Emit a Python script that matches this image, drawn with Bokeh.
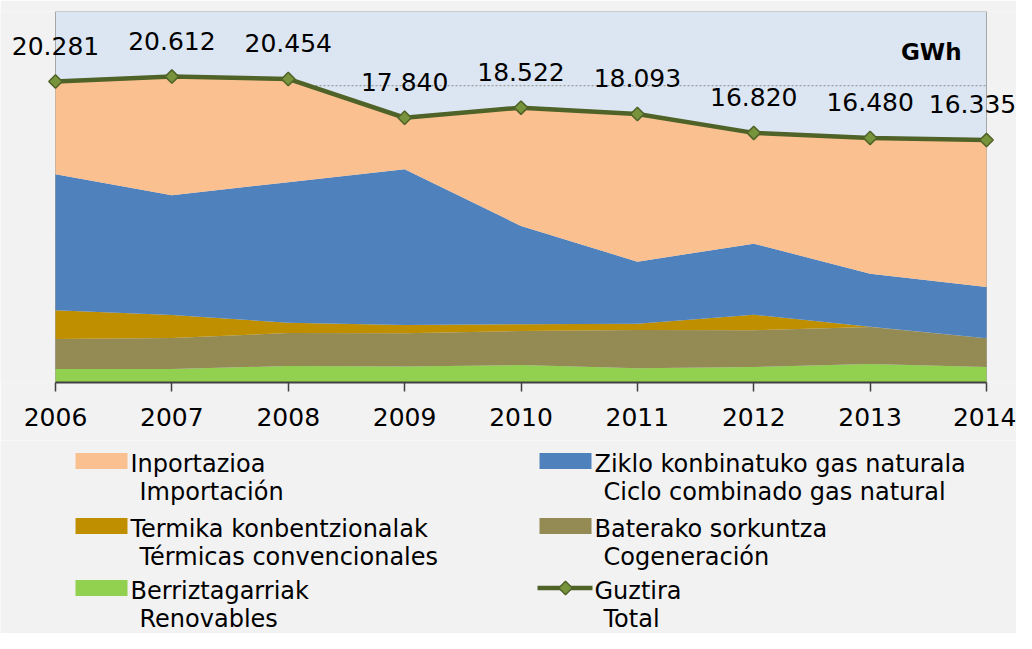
import numpy as np
from bokeh.plotting import figure
from bokeh.models import ColumnDataSource, Range1d, FixedTicker, LabelSet, Label
from bokeh.layouts import column
from bokeh.core.properties import value
from bokeh.embed import file_html
from bokeh.resources import INLINE

# ---------------- data (GWh) ----------------
years = [2006, 2007, 2008, 2009, 2010, 2011, 2012, 2013, 2014]
renovables = [910, 910, 1112, 1078, 1180, 957, 1045, 1247, 1045]
cogeneracion = [2022, 2090, 2224, 2238, 2292, 2581, 2474, 2494, 1934]
termicas = [1934, 1550, 694, 560, 450, 425, 1051, 20, 0]
ciclo_combinado = [9166, 8068, 9463, 10494, 6625, 4179, 4785, 3572, 3458]
importacion = [6249, 7994, 6961, 3470, 7975, 9951, 7465, 9147, 9898]
total = [20281, 20612, 20454, 17840, 18522, 18093, 16820, 16480, 16335]
total_labels = ["20.281", "20.612", "20.454", "17.840", "18.522",
                "18.093", "16.820", "16.480", "16.335"]
y_max = 25000
y_grid = [5000, 10000, 15000, 20000]

series_keys = ["renovables", "cogeneracion", "termicas", "ciclo", "importacion"]
series_colors = ["#92D050", "#948A54", "#BF8F00", "#4F81BD", "#FAC090"]

legend_eu = ["Inportazioa", "Ziklo konbinatuko gas naturala",
             "Termika konbentzionalak", "Baterako sorkuntza",
             "Berriztagarriak", "Guztira"]
legend_es = ["Importación", "Ciclo combinado gas natural",
             "Térmicas convencionales", "Cogeneración",
             "Renovables", "Total"]
legend_colors = ["#FAC090", "#4F81BD", "#BF8F00", "#948A54", "#92D050", None]

FONT = "DejaVu Sans"
BG = "#F2F2F2"
PLOT_BG = "#DCE6F2"
LINE_C = "#4F6228"
MARK_C = "#77933C"

# layout (pixels)
W = 1016
MAIN_H = 440
LEG_H = 193
PLOT_L, PLOT_R = 55, 986          # pixel x of first / last year
px_per_year = (PLOT_R - PLOT_L) / (years[-1] - years[0])
x_lo = years[0] - PLOT_L / px_per_year
x_hi = years[-1] + (W - PLOT_R) / px_per_year

# ---------------- main chart ----------------
label_dx = [0, 0, 0, 0, 0, 0, 0, 0, -14]   # keep last label inside page
src = ColumnDataSource(dict(year=years, renovables=renovables,
                            cogeneracion=cogeneracion, termicas=termicas,
                            ciclo=ciclo_combinado, importacion=importacion,
                            total=total, lab=total_labels, dx=label_dx))

p = figure(width=W, height=MAIN_H, x_range=Range1d(x_lo, x_hi),
           y_range=Range1d(0, y_max), output_backend="svg",
           toolbar_location=None, y_axis_location=None,
           background_fill_color=BG, border_fill_color=BG,
           min_border_left=0, min_border_right=0, min_border_top=11,
           min_border_bottom=58)
p.outline_line_color = None
p.xgrid.visible = False
p.ygrid.visible = False

# plot area background + border
p.quad(left=[years[0]], right=[years[-1]], bottom=[0], top=[y_max],
       fill_color=PLOT_BG, line_color="#A6A6A6", line_width=1)

# horizontal gridlines limited to the plot area (drawn below the areas)
p.segment(x0=[years[0]] * len(y_grid), x1=[years[-1]] * len(y_grid),
          y0=y_grid, y1=y_grid, line_color="#8C8C8C", line_dash="2 2",
          line_width=1)

p.varea_stack(stackers=series_keys, x="year", color=series_colors, source=src)

p.line("year", "total", source=src, line_color=LINE_C, line_width=4.5)
p.scatter("year", "total", source=src, marker="square", angle=np.pi / 4,
          size=9.5, fill_color=MARK_C, line_color=LINE_C, line_width=1.5)

labels = LabelSet(x="year", y="total", text="lab", source=src,
                  x_offset="dx", text_align="center",
                  text_baseline="alphabetic", y_offset=27,
                  text_font=value(FONT), text_font_size="25px",
                  text_color="#000000")
p.add_layout(labels)

p.add_layout(Label(x=years[-1], y=y_max, x_offset=-25, y_offset=-40,
                   text="GWh", text_align="right", text_baseline="alphabetic",
                   text_font=FONT, text_font_size="23px",
                   text_font_style="bold", text_color="#000000"))

xa = p.xaxis[0]
xa.ticker = FixedTicker(ticks=years)
xa.bounds = (years[0], years[-1])
xa.axis_line_color = "#404040"
xa.axis_line_width = 2
xa.major_tick_line_color = "#404040"
xa.major_tick_line_width = 1.5
xa.major_tick_out = 9
xa.major_tick_in = 0
xa.minor_tick_line_color = None
xa.major_label_text_font = FONT
xa.major_label_text_font_size = "25px"
xa.major_label_text_color = "#000000"
xa.major_label_standoff = 16

# ---------------- legend (pixel coordinates) ----------------
lp = figure(width=W, height=LEG_H, x_range=Range1d(0, W),
            y_range=Range1d(LEG_H, 0), output_backend="svg",
            toolbar_location=None, x_axis_location=None,
            y_axis_location=None, background_fill_color=BG,
            border_fill_color=BG, min_border=0)
lp.outline_line_color = None
lp.xgrid.visible = False
lp.ygrid.visible = False

col_x = [75, 539]
row_base = [30, 95, 157]
line2_dy = 28
text_shift = -7          # rendered baseline sits lower than requested
sw_w, sw_h = 52, 16

sw_l, sw_r, sw_t, sw_b, sw_c = [], [], [], [], []
t1x, t1y, t2x, t2y = [], [], [], []
for i, name in enumerate(legend_eu):
    c = i % 2
    r = i // 2
    x0 = col_x[c]
    b = row_base[r]
    if legend_colors[i] is not None:
        sw_l.append(x0)
        sw_r.append(x0 + sw_w)
        sw_t.append(b - 1.5 - sw_h)
        sw_b.append(b - 1.5)
        sw_c.append(legend_colors[i])
    else:
        line_y = b - 9.5
        lp.line([x0 - 2, x0 + sw_w + 1], [line_y, line_y], line_color=LINE_C,
                line_width=4.5)
        lp.scatter([x0 + sw_w / 2], [line_y], marker="square",
                   angle=np.pi / 4, size=9.5, fill_color=MARK_C,
                   line_color=LINE_C, line_width=1.5)
    t1x.append(x0 + sw_w + 3)
    t1y.append(b + text_shift)
    t2x.append(x0 + sw_w + 12)
    t2y.append(b + line2_dy + text_shift)

lp.quad(left=sw_l, right=sw_r, top=sw_t, bottom=sw_b, fill_color=sw_c,
        line_color=None)
lp.text(x=t1x, y=t1y, text=legend_eu, text_baseline="alphabetic",
        text_align="left", text_font=value(FONT), text_font_size="24px",
        text_color="#000000")
lp.text(x=t2x, y=t2y, text=legend_es, text_baseline="alphabetic",
        text_align="left", text_font=value(FONT), text_font_size="24px",
        text_color="#000000")

layout = column(p, lp, spacing=0)
open("out.html", "w").write(file_html(layout, INLINE))
